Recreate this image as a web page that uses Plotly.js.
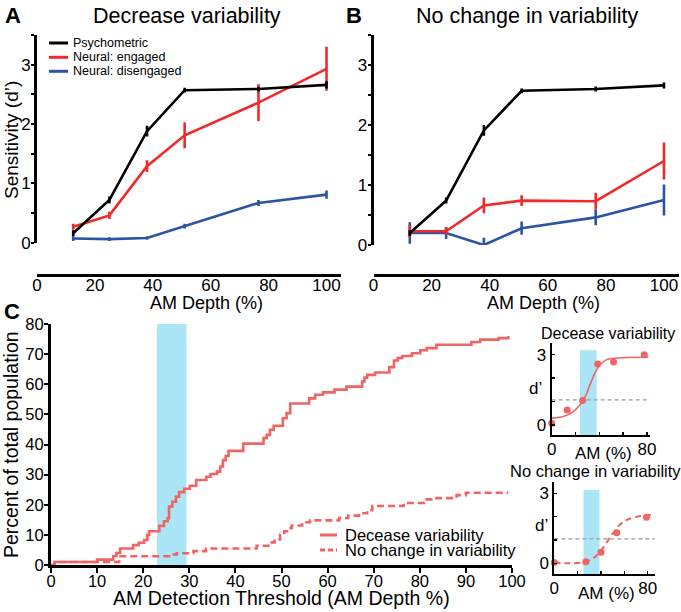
<!DOCTYPE html>
<html><head><meta charset="utf-8">
<script src="https://cdn.plot.ly/plotly-3.0.1.min.js"></script>
<style>html,body{margin:0;padding:0;background:#fff}#chart{width:681px;height:612px}</style>
</head><body><div id="chart"></div>
<script>
// ---------- DATA ----------
const amDepth = [12.5, 25, 38, 51, 76.5, 100];
const amTicksAB = [0, 20, 40, 60, 80, 100];
const dTickVals = [0, 0.5, 1, 1.5, 2, 2.5, 3, 3.5];
const dTickText = ['0', '', '1', '', '2', '', '3', ''];

// Panel A: decrease variability
const psychoA = [0.16, 0.72, 1.88, 2.57, 2.59, 2.66];
const psychoAErr = [0.05, 0.06, 0.09, 0.04, 0.04, 0.06];
const engagedA = [0.27, 0.46, 1.29, 1.81, 2.36, 2.93];
const engagedAErr = [0.05, 0.06, 0.1, 0.22, 0.31, 0.37];
const disengagedA = [0.07, 0.06, 0.08, 0.28, 0.67, 0.81];
const disengagedAErr = [0.04, 0.03, 0.03, 0.04, 0.05, 0.07];

// Panel B: no change in variability
const psychoB = [0.2, 0.74, 1.91, 2.57, 2.6, 2.66];
const psychoBErr = [0.05, 0.05, 0.09, 0.04, 0.04, 0.05];
const engagedB = [0.23, 0.23, 0.66, 0.74, 0.73, 1.4];
const engagedBErr = [0.1, 0.06, 0.13, 0.09, 0.14, 0.31];
const disengagedB = [0.2, 0.2, 0.0, 0.28, 0.46, 0.75];
const disengagedBErr = [0.18, 0.1, 0.12, 0.11, 0.13, 0.26];

const legendA = ['Psychometric', 'Neural: engaged', 'Neural: disengaged'];

// Panel C: cumulative threshold distributions (step curves)
const decX = [0, 0.8, 10, 13.5, 14.2, 15, 17.8, 19, 20.2, 20.9, 21.3, 23.5, 24.5, 25.3, 25.6, 26.3, 27.1, 27.8, 28.9, 30.1, 31.5, 33.7, 34.6, 36, 36.7, 37.3, 37.9, 38.5, 41.7, 46.1, 46.8, 47.5, 48.3, 50.3, 51.1, 51.9, 56, 57.3, 59, 61.5, 64.1, 67.5, 68, 68.6, 70.3, 73.4, 74.4, 75.2, 76.2, 78.3, 80.1, 81.5, 83.6, 91.2, 93.1, 97.1, 99.2];
const decY = [0, 1, 1.8, 3, 4, 5.5, 6.6, 7.4, 8.3, 10, 11.2, 13, 14.5, 15.5, 19.4, 21, 22.7, 24.2, 25.3, 26.3, 28.2, 29.3, 30.2, 31, 32.7, 34.8, 36.2, 37.9, 40.3, 42.1, 43.2, 44.9, 46.2, 48.7, 50.4, 53.6, 55.3, 56.5, 57.3, 58.2, 59.2, 60.9, 62.2, 63.1, 63.9, 65.7, 67.9, 68.7, 69.4, 70.3, 71.3, 72, 73.1, 74, 74.8, 75.3, 76];
const noChgX = [0, 0.8, 14.8, 26, 27.3, 30.9, 33.6, 44.6, 47.9, 48.5, 49.7, 50.6, 51.2, 52.2, 54.5, 56.2, 62.5, 64.5, 66.8, 68.6, 69.7, 76.5, 81.5, 82.5, 88, 90, 99.2];
const noChgY = [0, 1, 2.9, 3.5, 3.9, 4.6, 5.5, 6.4, 7.5, 8.5, 10, 11.2, 12.2, 13.1, 14.2, 14.8, 15.6, 16.4, 17.2, 18.2, 19.6, 20.6, 21.8, 22.2, 23.2, 24, 24];
const cTicksX = [0, 10, 20, 30, 40, 50, 60, 70, 80, 90, 100];
const cTicksY = [0, 10, 20, 30, 40, 50, 60, 70, 80];
const cBand = [23, 29.4];
const legendC = ['Decease variability', 'No change in variability'];

// Insets: example neurons
const inset1PtsX = [0, 13, 26, 38.6, 52, 77.8];
const inset1PtsY = [0.07, 0.64, 1.04, 2.6, 2.69, 3.0];
const inset1FitX = [0, 9.8, 18.2, 23.8, 28, 32.2, 36.4, 40.6, 46.2, 54.6, 81.2];
const inset1FitY = [0.29, 0.36, 0.57, 0.86, 1.19, 1.72, 2.22, 2.57, 2.79, 2.86, 2.89];
const inset1Thr = 1.07;
const inset1Band = [23.8, 37.8, 3.19];
const inset2PtsX = [0, 27, 40, 53.5, 79];
const inset2PtsY = [0.03, 0.07, 0.47, 1.31, 1.97];
const inset2FitX = [0, 12.9, 25.7, 32.9, 38.6, 44.3, 50, 55.7, 61.4, 70, 78.5, 85.6];
const inset2FitY = [0.03, 0.0, 0.05, 0.2, 0.45, 0.85, 1.27, 1.63, 1.84, 1.99, 2.06, 2.09];
const inset2Thr = 1.05;
const inset2Band = [25, 38.7, 3.15];
const insetTicksX = [0, 20, 40, 60, 80];
const insetTickTextX = ['0', '', '', '', '80'];
const insetTicksY = [0, 1, 2, 3];
const insetTickTextY = ['0', '', '', '3'];

// ---------- STYLE ----------
const W = 681, H = 612;
const FONT = 'Liberation Sans, Arial, Helvetica, sans-serif';
const BLACK = '#000000', RED = '#ee2a2a', BLUE = '#2b55a3', SALMON = '#f06464', CYAN = '#aae6f6', GREY = '#9a9a9a';
const px = x => x / W;
const py = y => 1 - y / H;

function series(x, y, err, color, name, xa, ya) {
  return {
    x: x, y: y, name: name, xaxis: xa, yaxis: ya, type: 'scatter', mode: 'lines',
    line: {color: color, width: 2.6},
    error_y: {type: 'data', array: err, visible: true, color: color, thickness: 2.6, width: 0},
    showlegend: false, hoverinfo: 'skip'
  };
}

const traces = [
  series(amDepth, disengagedA, disengagedAErr, BLUE, legendA[2], 'x', 'y'),
  series(amDepth, engagedA, engagedAErr, RED, legendA[1], 'x', 'y'),
  series(amDepth, psychoA, psychoAErr, BLACK, legendA[0], 'x', 'y'),
  series(amDepth, disengagedB, disengagedBErr, BLUE, legendA[2], 'x2', 'y2'),
  series(amDepth, engagedB, engagedBErr, RED, legendA[1], 'x2', 'y2'),
  series(amDepth, psychoB, psychoBErr, BLACK, legendA[0], 'x2', 'y2'),
  {x: decX, y: decY, name: legendC[0], xaxis: 'x3', yaxis: 'y3', mode: 'lines',
   line: {shape: 'hv', color: SALMON, width: 2.6}, showlegend: false},
  {x: noChgX, y: noChgY, name: legendC[1], xaxis: 'x3', yaxis: 'y3', mode: 'lines',
   line: {shape: 'hv', color: SALMON, width: 2.6, dash: '7px,4px'}, showlegend: false},
  // inset 1
  {x: [0, 82.6], y: [inset1Thr, inset1Thr], xaxis: 'x4', yaxis: 'y4', mode: 'lines',
   line: {color: GREY, width: 1.2, dash: '4px,3px'}, showlegend: false},
  {x: inset1FitX, y: inset1FitY, xaxis: 'x4', yaxis: 'y4', mode: 'lines',
   line: {color: SALMON, width: 1.6, shape: 'spline', smoothing: 1}, showlegend: false},
  {x: inset1PtsX, y: inset1PtsY, xaxis: 'x4', yaxis: 'y4', mode: 'markers',
   marker: {color: SALMON, size: 7}, showlegend: false, cliponaxis: false},
  // inset 2
  {x: [0, 86.3], y: [inset2Thr, inset2Thr], xaxis: 'x5', yaxis: 'y5', mode: 'lines',
   line: {color: GREY, width: 1.2, dash: '4px,3px'}, showlegend: false},
  {x: inset2FitX, y: inset2FitY, xaxis: 'x5', yaxis: 'y5', mode: 'lines',
   line: {color: SALMON, width: 2, dash: '6px,4px', shape: 'spline', smoothing: 1}, showlegend: false},
  {x: inset2PtsX, y: inset2PtsY, xaxis: 'x5', yaxis: 'y5', mode: 'markers',
   marker: {color: SALMON, size: 7}, showlegend: false, cliponaxis: false}
];

const axBase = {showgrid: false, zeroline: false, showline: true, linecolor: BLACK, color: BLACK,
  tickcolor: BLACK, fixedrange: true, tickfont: {family: FONT, size: 17, color: BLACK}};

function yAB(bot, top) {
  return Object.assign({}, axBase, {domain: [py(bot), py(top)], range: [0, 3.5], linewidth: 3,
    ticks: 'outside', ticklen: 3, tickwidth: 2, tickmode: 'array', tickvals: dTickVals, ticktext: dTickText,
    ticklabelstandoff: -3});
}
function xAB(l, r) {
  return Object.assign({}, axBase, {domain: [px(l), px(r)], range: [0, 105], linewidth: 3,
    anchor: 'free', position: py(275), ticks: '', tickmode: 'array', tickvals: amTicksAB,
    ticklabelstandoff: -6, tickfont: {family: FONT, size: 17, color: BLACK}});
}

const layout = {
  width: W, height: H, margin: {l: 0, r: 0, t: 0, b: 0},
  paper_bgcolor: '#ffffff', plot_bgcolor: 'rgba(0,0,0,0)',
  font: {family: FONT, color: BLACK}, showlegend: false,
  xaxis: xAB(37, 341),
  yaxis: Object.assign(yAB(242.7, 35), {anchor: 'x'}),
  xaxis2: xAB(373.5, 678.5),
  yaxis2: Object.assign(yAB(245, 35), {anchor: 'x2'}),
  xaxis3: Object.assign({}, axBase, {domain: [px(51), px(512)], range: [0, 100], anchor: 'y3', linewidth: 3,
    ticks: 'outside', ticklen: 5, tickwidth: 2, tickmode: 'array', tickvals: cTicksX, ticklabelstandoff: -6,
    tickfont: {family: FONT, size: 16.5, color: BLACK}}),
  yaxis3: Object.assign({}, axBase, {domain: [py(565), py(324)], range: [0, 80], anchor: 'x3', linewidth: 3,
    ticks: 'outside', ticklen: 4, tickwidth: 2, tickmode: 'array', tickvals: cTicksY, ticklabelstandoff: -3,
    tickfont: {family: FONT, size: 16.5, color: BLACK}}),
  xaxis4: Object.assign({}, axBase, {domain: [px(551.7), px(650)], range: [0, 82.6], anchor: 'y4', linewidth: 2,
    ticks: 'inside', ticklen: 3, tickwidth: 1.5, tickmode: 'array', tickvals: insetTicksX, ticktext: insetTickTextX,
    ticklabelstandoff: -2}),
  yaxis4: Object.assign({}, axBase, {domain: [py(435), py(343)], range: [-0.43, 3.5], anchor: 'x4', linewidth: 2,
    ticks: 'inside', ticklen: 3, tickwidth: 1.5, tickmode: 'array', tickvals: insetTicksY, ticktext: insetTickTextY}),
  xaxis5: Object.assign({}, axBase, {domain: [px(554.3), px(655)], range: [0, 86.3], anchor: 'y5', linewidth: 2,
    ticks: 'inside', ticklen: 3, tickwidth: 1.5, tickmode: 'array', tickvals: insetTicksX, ticktext: insetTickTextX,
    ticklabelstandoff: -2}),
  yaxis5: Object.assign({}, axBase, {domain: [py(574), py(481.7)], range: [-0.46, 3.5], anchor: 'x5', linewidth: 2,
    ticks: 'inside', ticklen: 3, tickwidth: 1.5, tickmode: 'array', tickvals: insetTicksY, ticktext: insetTickTextY}),
  shapes: [
    {type: 'rect', xref: 'x3', yref: 'y3', x0: cBand[0], x1: cBand[1], y0: 0, y1: 80,
     fillcolor: CYAN, line: {width: 0}, layer: 'below'},
    {type: 'rect', xref: 'x4', yref: 'y4', x0: inset1Band[0], x1: inset1Band[1], y0: -0.43, y1: inset1Band[2],
     fillcolor: CYAN, line: {width: 0}, layer: 'below'},
    {type: 'rect', xref: 'x5', yref: 'y5', x0: inset2Band[0], x1: inset2Band[1], y0: -0.46, y1: inset2Band[2],
     fillcolor: CYAN, line: {width: 0}, layer: 'below'},
    // legend samples panel A
    {type: 'line', xref: 'paper', yref: 'paper', x0: px(49), x1: px(68), y0: py(43), y1: py(43), line: {color: BLACK, width: 3}},
    {type: 'line', xref: 'paper', yref: 'paper', x0: px(49), x1: px(68), y0: py(57.3), y1: py(57.3), line: {color: RED, width: 3}},
    {type: 'line', xref: 'paper', yref: 'paper', x0: px(49), x1: px(68), y0: py(71.3), y1: py(71.3), line: {color: BLUE, width: 3}},
    // legend samples panel C
    {type: 'line', xref: 'paper', yref: 'paper', x0: px(320), x1: px(337), y0: py(535), y1: py(535), line: {color: SALMON, width: 3}},
    {type: 'line', xref: 'paper', yref: 'paper', x0: px(320), x1: px(337), y0: py(550), y1: py(550), line: {color: SALMON, width: 3, dash: '5px,3px'}}
  ],
  annotations: []
};

function ann(text, x, y, size, opts) {
  layout.annotations.push(Object.assign({text: text, xref: 'paper', yref: 'paper', x: px(x), y: py(y),
    xanchor: 'center', yanchor: 'middle', showarrow: false,
    font: {family: FONT, size: size, color: BLACK}}, opts || {}));
}
ann('<b>A</b>', 3, 15, 22, {xanchor: 'left'});
ann('Decrease variability', 187.5, 16, 21.5);
ann('<b>B</b>', 344, 15, 22, {xanchor: 'left'});
ann('No change in variability', 527.5, 16, 21.5);
ann('<b>C</b>', 2, 311, 22, {xanchor: 'left'});
ann('Sensitivity (d’)', 12, 140, 19, {textangle: -90});
ann('AM Depth (%)', 206, 303, 18);
ann('AM Depth (%)', 543.5, 303, 18);
ann('Percent of total population', 11, 445, 19.5, {textangle: -90});
ann('AM Detection Threshold (AM Depth %)', 281, 598, 19.5);
ann(legendA[0], 70.7, 43, 12.5, {xanchor: 'left'});
ann(legendA[1], 70.7, 57.3, 12.5, {xanchor: 'left'});
ann(legendA[2], 70.7, 71.3, 12.5, {xanchor: 'left'});
ann(legendC[0], 343, 535, 16.5, {xanchor: 'left'});
ann(legendC[1], 343, 550, 16.5, {xanchor: 'left'});
ann('Decease variability', 608, 334, 16);
ann('No change in variability', 595, 471, 16.5);
ann('d’', 535, 388, 17);
ann('d’', 541.5, 525, 17);
ann('AM (%)', 603, 453, 17);
ann('AM (%)', 606, 593, 17);

Plotly.newPlot('chart', traces, layout, {staticPlot: true, displayModeBar: false});
</script></body></html>
